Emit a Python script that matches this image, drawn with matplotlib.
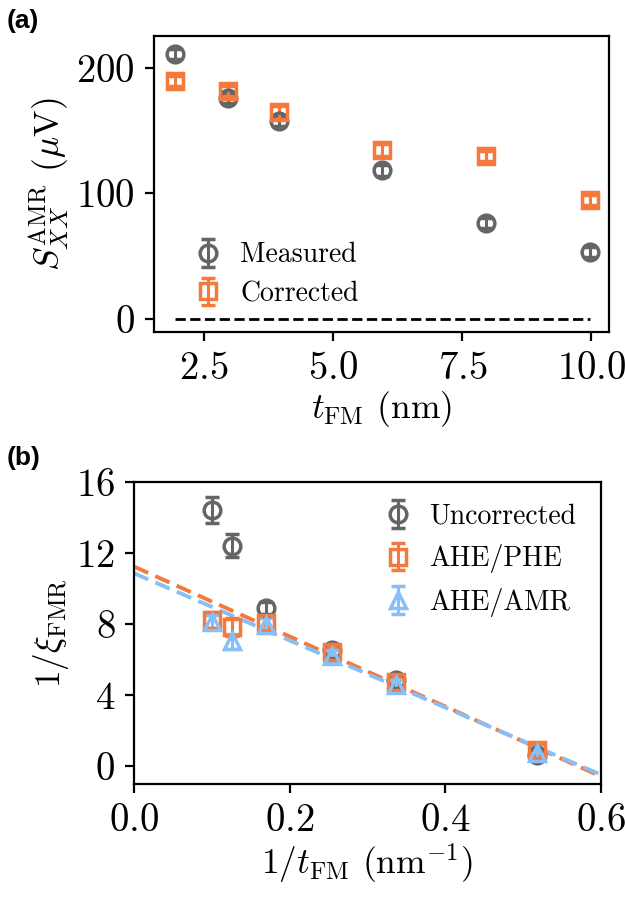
import numpy as np
import matplotlib
matplotlib.use("Agg")
import matplotlib.pyplot as plt

plt.rcParams['font.family'] = 'serif'
plt.rcParams['font.serif'] = ['cmr10']
plt.rcParams['mathtext.fontset'] = 'cm'
plt.rcParams['axes.formatter.use_mathtext'] = True
plt.rcParams['font.size'] = 28
plt.rcParams['axes.labelsize'] = 25.5
plt.rcParams['legend.fontsize'] = 20
plt.rcParams['axes.unicode_minus'] = False

# panel (a) data
t_fm = [1.94, 2.97, 3.95, 5.95, 7.95, 9.97]
s_measured = [211.4, 176.0, 157.4, 118.3, 76.8, 53.2]
s_measured_err = [4, 4, 4, 4, 4, 4]
s_corrected = [189.4, 182.0, 164.6, 134.8, 130.0, 95.0]
s_corrected_err = [4, 4, 5, 5, 4, 4]

# panel (b) data
inv_t = [0.100, 0.126, 0.170, 0.255, 0.337, 0.518]
xi_uncorr = [14.4, 12.4, 8.9, 6.5, 4.8, 0.6]
xi_uncorr_err = [0.75, 0.65, 0.35, 0.3, 0.3, 0.3]
xi_phe = [8.2, 7.8, 8.05, 6.4, 4.7, 0.9]
xi_phe_err = [0.45, 0.5, 0.4, 0.3, 0.3, 0.3]
xi_amr = [8.1, 7.0, 7.9, 6.2, 4.55, 0.7]
xi_amr_err = [0.4, 0.4, 0.4, 0.3, 0.3, 0.3]
# linear fits: (intercept, slope)
fit_phe = (11.22, -19.7)
fit_amr = (10.84, -18.9)

GRAY = '#656565'
ORANGE = '#F5793A'
BLUE = '#85C0F9'

fig = plt.figure(figsize=(6.25, 8.97), dpi=100)

def style_axes(ax):
    for s in ax.spines.values():
        s.set_linewidth(1.6)
    ax.tick_params(direction='out', length=6.5, width=1.6, pad=7)

def err_kw(color, marker):
    return dict(fmt=marker, color=color, mfc='none', mec=color, ms=12, mew=2.5,
                elinewidth=2.2, capsize=5, capthick=2.2)

# (a)
ax1 = fig.add_axes([0.2464, 0.6299, 0.728, 0.330])
ax1.errorbar(t_fm, s_measured, yerr=s_measured_err, label='Measured', **err_kw(GRAY, 'o'))
ax1.errorbar(t_fm, s_corrected, yerr=s_corrected_err, label='Corrected', **err_kw(ORANGE, 's'))
ax1.plot([t_fm[0], t_fm[-1]], [0, 0], '--', color='k', lw=2)
ax1.set_xlim(1.53, 10.34)
ax1.set_ylim(-10.4, 225.5)
ax1.set_xticks([2.5, 5.0, 7.5, 10.0])
ax1.set_yticks([0, 100, 200])
ax1.set_xlabel(r'$t_{\mathrm{FM}}$ (nm)', labelpad=2)
ax1.set_ylabel(r'$S_{XX}^{\mathrm{AMR}}$ ($\mu$V)', labelpad=4)
ax1.legend(loc='lower left', bbox_to_anchor=(0.07, 0.065), frameon=False, borderaxespad=0,
           borderpad=0.2, handletextpad=0.55, labelspacing=0.45, handlelength=1.2)
style_axes(ax1)

# (b)
ax2 = fig.add_axes([0.2144, 0.126, 0.7467, 0.337])
xfit = np.array([0.0, 0.6])
ax2.plot(xfit, fit_phe[0] + fit_phe[1] * xfit, '--', color=ORANGE, lw=2.8, dashes=(4, 2))
ax2.plot(xfit, fit_amr[0] + fit_amr[1] * xfit, '--', color=BLUE, lw=2.8, dashes=(4, 2))
ax2.errorbar(inv_t, xi_uncorr, yerr=xi_uncorr_err, label='Uncorrected', **err_kw(GRAY, 'o'))
ax2.errorbar(inv_t, xi_phe, yerr=xi_phe_err, label='AHE/PHE', **err_kw(ORANGE, 's'))
ax2.errorbar(inv_t, xi_amr, yerr=xi_amr_err, label='AHE/AMR', **err_kw(BLUE, '^'))
ax2.set_xlim(0, 0.6)
ax2.set_ylim(-1.03, 16)
ax2.set_xticks([0.0, 0.2, 0.4, 0.6])
ax2.set_yticks([0, 4, 8, 12, 16])
ax2.set_xlabel(r'$1/t_{\mathrm{FM}}$ (nm$^{-1}$)', labelpad=2)
ax2.set_ylabel(r'$1/\xi_{\mathrm{FMR}}$', labelpad=4)
ax2.legend(loc='upper right', bbox_to_anchor=(0.96, 0.947), frameon=False, borderaxespad=0,
           borderpad=0.2, handletextpad=0.55, labelspacing=0.53, handlelength=1.2)
style_axes(ax2)

fig.text(0.011, 0.99, '(a)', fontsize=19, fontweight='bold', family='Liberation Sans', va='top')
fig.text(0.011, 0.503, '(b)', fontsize=19, fontweight='bold', family='Liberation Sans', va='top')

fig.savefig('out.png', dpi=100)
